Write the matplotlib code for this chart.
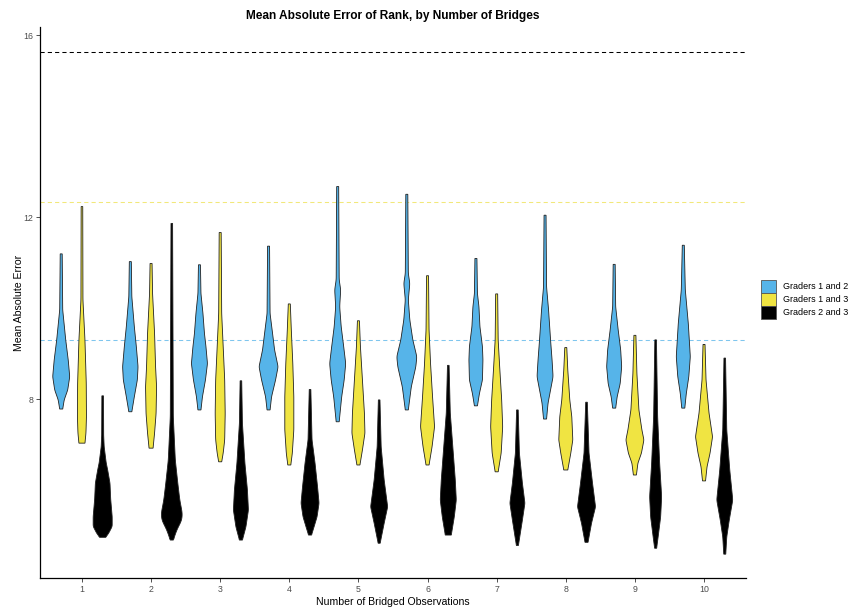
import numpy as np
import matplotlib
matplotlib.use("Agg")
import matplotlib.pyplot as plt
from matplotlib.patches import Patch

plt.rcParams['font.family'] = ['Liberation Sans', 'DejaVu Sans']

bridges = list(range(1, 11))
pair_labels = ["Graders 1 and 2", "Graders 1 and 3", "Graders 2 and 3"]
pair_colors = ["#56B4E9", "#F0E442", "#000000"]

# Dashed reference levels of mean absolute error
ref_levels = [9.30, 12.33, 15.63]
ref_colors = ["#7FC6EE", "#F2E87A", "#000000"]

# Violin density profiles per number of bridges: (MAE values, relative density)
g12_profiles = [
    ([7.78, 7.98, 8.20, 8.49, 8.86, 9.30, 9.96, 11.19], [1.5, 3, 6.5, 8.5, 7, 4.5, 1.5, 1]),
    ([7.72, 8.05, 8.42, 8.71, 9.15, 9.59, 10.25, 11.02], [1.5, 4, 7, 7.7, 6, 4, 1.5, 1]),
    ([7.76, 8.05, 8.42, 8.78, 9.15, 9.44, 9.88, 10.32, 10.95], [1.5, 3, 6, 8, 6.5, 5, 3.5, 1.5, 1]),
    ([7.76, 8.05, 8.42, 8.71, 9.08, 9.44, 9.88, 11.36], [1.5, 3, 7, 9.5, 6, 4, 1.5, 1]),
    ([7.50, 8.05, 8.42, 8.78, 9.15, 9.59, 10.03, 10.40, 10.62, 12.67], [1.5, 4, 6.5, 8, 6, 3.5, 2, 3, 1.5, 1]),
    ([7.76, 8.27, 8.71, 8.93, 9.30, 9.74, 10.18, 10.54, 10.76, 12.50], [1.5, 4.5, 9, 10, 6, 3, 1.5, 3, 1.5, 1]),
    ([7.85, 8.12, 8.42, 8.86, 9.15, 9.59, 10.03, 10.32, 11.09], [1.5, 3.5, 6.5, 7, 6.5, 4, 3, 1.5, 1]),
    ([7.56, 7.91, 8.20, 8.49, 8.86, 9.30, 9.96, 10.47, 12.04], [1.5, 3, 5.5, 8, 7, 5.5, 3.5, 1.5, 1]),
    ([7.80, 8.05, 8.34, 8.71, 9.08, 9.52, 10.03, 10.96], [1.5, 3, 6, 7.5, 6.5, 4, 1.5, 1]),
    ([7.80, 8.12, 8.49, 8.93, 9.66, 10.40, 11.38], [1.5, 3, 5.5, 7, 5, 2, 1]),
]
g13_profiles = [
    ([7.03, 7.25, 7.61, 8.35, 9.30, 10.18, 12.23], [3, 4, 4.5, 4.3, 3, 1, 0.8]),
    ([6.92, 7.25, 7.68, 8.27, 8.71, 9.44, 10.32, 10.98], [2, 3.5, 5, 5.5, 4.5, 3.5, 1.5, 1]),
    ([6.62, 6.81, 7.10, 7.68, 8.42, 9.15, 9.88, 11.66], [1.5, 3, 4.5, 5, 4.5, 3, 1.5, 1]),
    ([6.55, 6.81, 7.32, 8.05, 8.78, 9.52, 10.09], [1.5, 3, 4.5, 4.5, 3.5, 2, 1]),
    ([6.55, 6.88, 7.25, 7.68, 8.42, 9.15, 9.72], [1.5, 4, 6.5, 6, 4, 2, 1]),
    ([6.55, 6.95, 7.39, 8.05, 8.78, 9.52, 10.71], [1.5, 4.5, 7, 5, 3, 1.5, 1]),
    ([6.40, 6.81, 7.39, 7.98, 8.71, 9.30, 10.31], [1.5, 4.5, 6, 5, 3, 1.5, 1]),
    ([6.44, 6.81, 7.10, 7.61, 7.98, 8.64, 9.13], [2, 5, 7, 6, 4, 2, 1]),
    ([6.33, 6.59, 6.81, 7.10, 7.32, 7.76, 8.56, 9.40], [1.5, 3, 6.5, 9, 7, 4, 2, 1]),
    ([6.20, 6.51, 6.81, 7.17, 7.69, 8.42, 9.20], [1.5, 3, 6, 8.5, 5, 2, 1]),
]
g23_profiles = [
    ([4.96, 5.05, 5.20, 5.41, 5.80, 6.15, 6.44, 6.60, 6.95, 7.20, 8.07], [3, 6, 9.5, 9.5, 8, 7.3, 5, 3.5, 1.5, 1, 0.8]),
    ([4.90, 5.12, 5.34, 5.49, 5.78, 6.15, 6.66, 7.61, 11.86], [1.5, 5, 10, 10.5, 8, 6, 3.5, 1.5, 0.8]),
    ([4.90, 5.19, 5.56, 6.00, 6.59, 7.47, 8.40], [1.5, 5, 7.5, 6.5, 4, 1.5, 0.8]),
    ([5.01, 5.19, 5.41, 5.71, 6.07, 6.59, 7.10, 8.21], [1.5, 4, 7, 9, 7.5, 5, 2, 0.8]),
    ([4.83, 5.27, 5.63, 6.22, 6.95, 7.98], [1, 5, 8.5, 5, 2, 0.8]),
    ([5.01, 5.41, 5.78, 6.22, 6.81, 7.69, 8.74], [3, 6, 8, 7, 5, 2, 0.8]),
    ([4.78, 5.34, 5.71, 6.15, 6.81, 7.76], [1, 5, 7.5, 5, 2, 0.8]),
    ([4.85, 5.27, 5.63, 6.15, 6.81, 7.93], [1.5, 5, 9, 6, 2.5, 0.8]),
    ([4.72, 4.97, 5.41, 5.85, 6.59, 7.61, 9.30], [1, 2.5, 5, 6, 4, 2, 0.8]),
    ([4.59, 4.97, 5.34, 5.78, 6.44, 7.32, 8.90], [1, 2, 4.5, 8, 5, 2, 0.8]),
]

all_profiles = [g12_profiles, g13_profiles, g23_profiles]
dodge = [-0.3, 0.0, 0.3]
density_to_width = 1.0 / 69.0


def violin_outline(values, density, n=240, smooth=9):
    grid = np.linspace(values[0], values[-1], n)
    w = np.interp(grid, values, density)
    k = np.hanning(smooth + 2)[1:-1]
    k /= k.sum()
    pad = smooth // 2
    wp = np.pad(w, pad, mode='edge')
    ws = np.convolve(wp, k, mode='valid')
    ws[0], ws[-1] = w[0], w[-1]
    return grid, ws


fig = plt.figure(figsize=(8.52, 6.09), dpi=100)
ax = fig.add_axes([0.0475, 0.0509, 0.8275, 0.905])

for lvl, col in zip(ref_levels, ref_colors):
    ax.axhline(lvl, color=col, lw=0.75, linestyle=(0, (4, 3)), zorder=1)

for gi, profiles in enumerate(all_profiles):
    for b, (vals, dens) in zip(bridges, profiles):
        yy, ww = violin_outline(np.array(vals), np.array(dens))
        cx = b + dodge[gi]
        half = ww * density_to_width
        xs = np.concatenate([cx + half, (cx - half)[::-1]])
        ys = np.concatenate([yy, yy[::-1]])
        ax.fill(xs, ys, facecolor=pair_colors[gi], edgecolor='#222222',
                linewidth=0.6, zorder=2)

ax.set_xlim(0.4, 10.6)
ax.set_ylim(4.066, 16.18)
ax.set_xticks(bridges)
ax.set_xticklabels([str(b) for b in bridges])
ax.set_yticks([8, 12, 16])
ax.tick_params(axis='both', colors='#333333', labelcolor='#4D4D4D',
               labelsize=6.3, length=3, width=0.6, pad=2)
for side in ['top', 'right']:
    ax.spines[side].set_visible(False)
for side in ['left', 'bottom']:
    ax.spines[side].set_linewidth(0.9)
    ax.spines[side].set_color('black')

ax.set_xlabel("Number of Bridged Observations", fontsize=7.6, labelpad=2)
ax.set_ylabel("Mean Absolute Error", fontsize=7.6, labelpad=0)
ax.set_title("Mean Absolute Error of Rank, by Number of Bridges",
             fontsize=8.6, fontweight='bold', pad=6)

handles = [Patch(facecolor=c, edgecolor='#555555', linewidth=0.6) for c in pair_colors]
fig.legend(handles, pair_labels, loc='upper left', bbox_to_anchor=(0.893, 0.541),
           frameon=False, fontsize=6.5, handlelength=1.7, handleheight=1.85,
           labelspacing=0.0, handletextpad=0.7, borderpad=0, borderaxespad=0)

fig.savefig("out.png", dpi=100)
